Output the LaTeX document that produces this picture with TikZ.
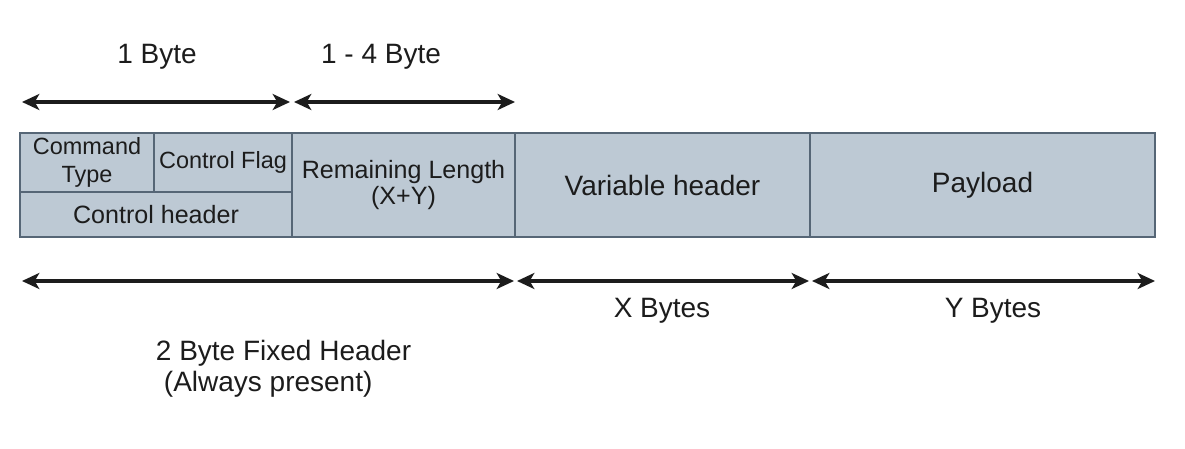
\documentclass[tikz,border=0pt]{standalone}
\usepackage{fontspec}
\setmainfont{Liberation Sans}
\usetikzlibrary{arrows.meta}

\definecolor{cellfill}{RGB}{189,201,212}
\definecolor{celldraw}{RGB}{86,102,118}
\definecolor{inktext}{RGB}{28,28,28}

\tikzset{every picture/.style={line width=0.75pt}}
\tikzset{
  cell/.style={draw=celldraw, fill=cellfill, line width=1.2pt, inner sep=0pt, text=inktext, align=center},
  span/.style={line width=2.4pt, draw=inktext, {Stealth[length=13pt,width=12pt,inset=3.5pt]}-{Stealth[length=13pt,width=12pt,inset=3.5pt]}},
  lbl/.style={text=inktext, font=\fontsize{21}{24}\selectfont}
}

\begin{document}
\begin{tikzpicture}[x=0.75pt,y=0.75pt,yscale=-1,xscale=1]
	\useasboundingbox (0,0) rectangle (1185,449);

	%Shape: Rectangle [Command Type]
	\node [cell, minimum width=100.5pt, minimum height=44.25pt, font=\fontsize{17.6}{21}\selectfont] (cmd) at (87,162.5) {Command\\Type};
	%Shape: Rectangle [Control Flag]
	\node [cell, minimum width=103.5pt, minimum height=44.25pt, font=\fontsize{17.6}{21}\selectfont] (flag) at (223,162.5) {Control Flag};
	%Shape: Rectangle [Control header]
	\node [cell, minimum width=204pt, minimum height=33.75pt, font=\fontsize{18.8}{21}\selectfont] (ctrl) at (156,214.5) {Control header};
	%Shape: Rectangle [Remaining Length]
	\node [cell, minimum width=167.25pt, minimum height=78pt, font=\fontsize{18.8}{19.5}\selectfont] (remain) at (403.5,185) {Remaining Length\\(X+Y)};
	%Shape: Rectangle [Variable header]
	\node [cell, minimum width=221.25pt, minimum height=78pt, font=\fontsize{21}{24}\selectfont] (var) at (662.5,185) {Variable header};
	%Shape: Rectangle [Payload]
	\node [cell, minimum width=258.75pt, minimum height=78pt, font=\fontsize{21}{24}\selectfont] (pay) at (982.5,185) {Payload};

	%Arrow ends
	\coordinate (t0) at (22,102);
	\coordinate (t1) at (290,102);
	\coordinate (t2) at (294,102);
	\coordinate (t3) at (515,102);
	\coordinate (b0) at (22,281);
	\coordinate (b1) at (514,281);
	\coordinate (b2) at (517,281);
	\coordinate (b3) at (809,281);
	\coordinate (b4) at (812,281);
	\coordinate (b5) at (1155,281);

	%Straight Lines [1 Byte]
	\draw [span] (t0) -- (t1) ;
	%Straight Lines [1 - 4 Byte]
	\draw [span] (t2) -- (t3) ;
	%Straight Lines [fixed header]
	\draw [span] (b0) -- (b1) ;
	%Straight Lines [X Bytes]
	\draw [span] (b2) -- (b3) ;
	%Straight Lines [Y Bytes]
	\draw [span] (b4) -- (b5) ;

	% Text Node
	\node [lbl] (one) at (157,57) {1 Byte};
	% Text Node
	\node [lbl] (onefour) at (381,57) {1 - 4 Byte};
	% Text Node
	\node [lbl] (xb) at (662,311) {X Bytes};
	% Text Node
	\node [lbl] (yb) at (993,311) {Y Bytes};
	% Text Node
	\node [lbl, anchor=west, align=left, font=\fontsize{21}{23.5}\selectfont] (fixed) at (151,369) {2 Byte Fixed Header\\\hspace*{6pt}(Always present)};

\end{tikzpicture}
\end{document}
